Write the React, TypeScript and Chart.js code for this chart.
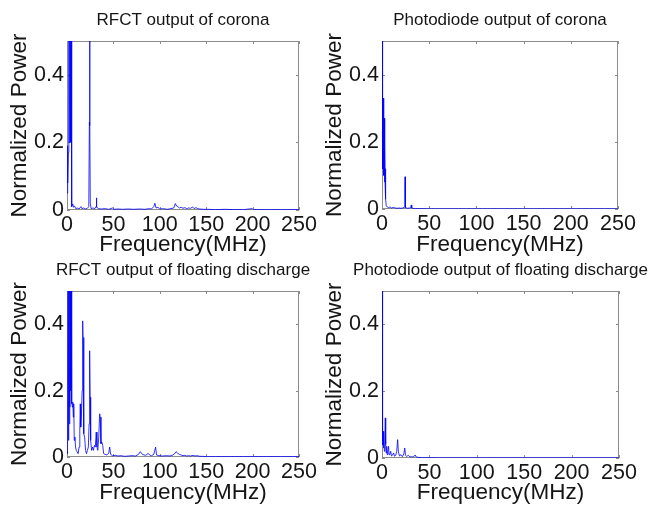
import { useEffect, useRef } from 'react';
import { Chart, registerables } from 'chart.js';

Chart.register(...registerables);

const FONT = 'Arial, "Liberation Sans", sans-serif';
const TEXT = '#151515';
const FRAME = '#8c8c8c';
const LINE = 'rgba(0,0,255,0.8)';

const xTicks = [0, 50, 100, 150, 200, 250];
const yTicks = [0, 0.2, 0.4];
const xLabel = 'Frequency(MHz)';
const yLabel = 'Normalized Power';

const titles = [
  'RFCT output of corona',
  'Photodiode output of corona',
  'RFCT output of floating discharge',
  'Photodiode output of floating discharge',
];

// RFCT output of corona
const rfctCoronaFreq = [0, 0.5, 1.0, 1.5, 2.0, 2.3, 2.6, 2.9, 3.2, 3.5, 3.8, 4.1, 4.4, 4.8, 5.3, 6.2, 7, 8, 9.5, 11, 13, 15, 16, 18, 20, 22, 23.5, 24.1, 24.4, 24.7, 25.1, 26, 28, 30, 31.3, 31.7, 32.1, 34, 37, 41, 45, 49, 50.5, 55, 60, 66, 72, 78, 84, 88, 91, 93.5, 94.7, 96, 98, 100, 104, 108, 112, 115, 116.8, 118, 119.5, 121, 123, 125, 127, 129, 131, 133, 135.5, 137, 139, 141, 143, 147, 152, 160, 170, 180, 190, 199.5, 201, 215, 230, 250];
const rfctCoronaPower = [0.05, 0.19, 0.08, 0.17, 0.95, 0.2, 1.2, 0.25, 1.1, 0.3, 0.9, 0.2, 0.7, 0.05, 0.01, 0.018, 0.008, 0.012, 0.004, 0.006, 0.003, 0.01, 0.004, 0.006, 0.003, 0.005, 0.01, 0.26, 0.9, 0.25, 0.02, 0.004, 0.006, 0.004, 0.01, 0.036, 0.008, 0.004, 0.003, 0.004, 0.002, 0.006, 0.002, 0.003, 0.002, 0.003, 0.002, 0.003, 0.002, 0.004, 0.003, 0.01, 0.02, 0.006, 0.008, 0.003, 0.004, 0.002, 0.004, 0.006, 0.019, 0.012, 0.01, 0.006, 0.008, 0.005, 0.007, 0.004, 0.006, 0.005, 0.009, 0.004, 0.007, 0.004, 0.003, 0.002, 0.002, 0.001, 0.002, 0.001, 0.001, 0.004, 0.001, 0.001, 0.001, 0.001];

// Photodiode output of corona
const pdCoronaFreq = [0, 0.3, 0.6, 0.9, 1.2, 1.5, 1.8, 2.1, 2.4, 2.7, 3.0, 3.3, 3.6, 4.0, 4.5, 5.5, 7, 8.5, 10, 12, 14, 16, 18, 20, 22, 23.5, 24.1, 24.4, 24.7, 25.1, 27, 29, 30.5, 31, 31.5, 34, 40, 50, 70, 100, 150, 200, 250];
const pdCoronaPower = [0.95, 0.4, 0.33, 0.12, 0.33, 0.14, 0.28, 0.1, 0.27, 0.08, 0.2, 0.07, 0.12, 0.03, 0.01, 0.006, 0.004, 0.006, 0.003, 0.005, 0.003, 0.002, 0.003, 0.002, 0.003, 0.005, 0.05, 0.096, 0.045, 0.004, 0.002, 0.003, 0.004, 0.012, 0.003, 0.001, 0.001, 0.0005, 0.0005, 0.0005, 0.0005, 0.0005, 0.0005];

// RFCT output of floating discharge
const rfctFloatFreq = [0, 0.4, 0.8, 1.2, 1.6, 2.0, 2.4, 2.8, 3.2, 3.6, 4.0, 4.4, 4.8, 5.3, 5.8, 6.3, 6.8, 7.3, 7.8, 8.5, 9.2, 10, 11, 12, 13, 13.8, 14.3, 14.8, 15.5, 16.3, 16.9, 17.3, 17.8, 18.3, 19, 20, 21, 22, 23, 23.8, 24.4, 24.9, 25.5, 26.5, 27.5, 28.5, 29.5, 30.5, 31.5, 32.3, 33.2, 34.2, 35.2, 35.8, 36.6, 37.5, 38.5, 39.5, 41, 43, 45, 46, 47, 49, 52, 55, 58, 62, 66, 70, 74, 77, 79, 80.5, 82, 85, 87.5, 89, 91, 93.5, 95.5, 96.5, 99, 103, 107, 111, 114, 116, 117.5, 119, 121, 123, 125, 127, 129, 131, 133, 136, 138, 140, 143, 146, 150, 160, 175, 190, 210, 230, 250];
const rfctFloatPower = [0.02, 0.01, 0.02, 0.7, 0.05, 0.9, 0.1, 0.8, 0.15, 0.95, 0.2, 1.0, 0.16, 0.17, 0.15, 0.165, 0.12, 0.16, 0.05, 0.06, 0.03, 0.02, 0.015, 0.01, 0.03, 0.08, 0.16, 0.09, 0.12, 0.2, 0.41, 0.36, 0.15, 0.07, 0.06, 0.02, 0.01, 0.02, 0.03, 0.1, 0.32, 0.18, 0.05, 0.02, 0.03, 0.02, 0.035, 0.03, 0.075, 0.03, 0.02, 0.06, 0.13, 0.12, 0.04, 0.045, 0.035, 0.01, 0.008, 0.006, 0.012, 0.03, 0.008, 0.004, 0.005, 0.003, 0.004, 0.002, 0.003, 0.004, 0.003, 0.008, 0.016, 0.01, 0.007, 0.005, 0.011, 0.006, 0.004, 0.008, 0.03, 0.006, 0.004, 0.003, 0.004, 0.003, 0.006, 0.01, 0.016, 0.012, 0.008, 0.006, 0.004, 0.005, 0.003, 0.004, 0.003, 0.005, 0.003, 0.004, 0.002, 0.002, 0.001, 0.001, 0.001, 0.001, 0.001, 0.001, 0.001];

// Photodiode output of floating discharge
const pdFloatFreq = [0, 0.3, 0.6, 0.9, 1.2, 1.6, 2.0, 2.5, 3.0, 3.5, 3.9, 4.4, 5.0, 5.5, 6.2, 6.9, 7.5, 8.3, 9.2, 10, 11, 12.2, 13.3, 14.5, 15.5, 16.5, 17.3, 18.5, 20, 21.5, 23, 24, 24.8, 26, 28, 29.5, 31, 33, 35, 36, 38, 42, 50, 60, 80, 110, 150, 200, 250];
const pdFloatPower = [0.95, 0.5, 0.13, 0.04, 0.08, 0.03, 0.05, 0.02, 0.06, 0.12, 0.04, 0.015, 0.035, 0.01, 0.02, 0.035, 0.01, 0.012, 0.02, 0.006, 0.008, 0.015, 0.005, 0.008, 0.02, 0.055, 0.018, 0.006, 0.01, 0.004, 0.012, 0.03, 0.008, 0.005, 0.008, 0.003, 0.004, 0.003, 0.009, 0.003, 0.002, 0.001, 0.001, 0.0005, 0.0005, 0.0005, 0.0005, 0.0005, 0.0005];

type Box = { left: number; top: number; w: number; h: number; pl: number; pt: number; pr: number; pb: number; xPad: number };

const boxes: Box[] = [
  { left: 0, top: 0, w: 325, h: 265, pl: 67, pt: 41, pr: 299, pb: 210, xPad: 6.6 },
  { left: 315, top: 0, w: 335, h: 265, pl: 67, pt: 41, pr: 303, pb: 209, xPad: 6.6 },
  { left: 0, top: 250, w: 325, h: 257, pl: 67, pt: 41, pr: 299, pb: 207, xPad: 0.8 },
  { left: 315, top: 250, w: 335, h: 257, pl: 67, pt: 41, pr: 304, pb: 208, xPad: 0.8 },
];

const series = [
  [rfctCoronaFreq, rfctCoronaPower],
  [pdCoronaFreq, pdCoronaPower],
  [rfctFloatFreq, rfctFloatPower],
  [pdFloatFreq, pdFloatPower],
];

const framePlugin = {
  id: 'frame',
  beforeDatasetsDraw(chart: any) {
    const { ctx, chartArea: a, scales } = chart;
    const x = scales.x;
    const y = scales.y;
    ctx.save();
    ctx.strokeStyle = FRAME;
    ctx.lineWidth = 1;
    ctx.strokeRect(a.left + 0.5, a.top + 0.5, a.right - a.left - 1, a.bottom - a.top - 1);
    ctx.beginPath();
    const L = 3;
    xTicks.forEach((v) => {
      const px = Math.round(x.getPixelForValue(v)) + 0.5;
      ctx.moveTo(px, a.bottom);
      ctx.lineTo(px, a.bottom - L);
      ctx.moveTo(px, a.top);
      ctx.lineTo(px, a.top + L);
    });
    yTicks.forEach((v) => {
      const py = Math.round(y.getPixelForValue(v)) + 0.5;
      ctx.moveTo(a.left, py);
      ctx.lineTo(a.left + L, py);
      ctx.moveTo(a.right, py);
      ctx.lineTo(a.right - L, py);
    });
    ctx.stroke();
    ctx.restore();
  },
};

const titlePlugin = {
  id: 'panelTitle',
  afterDraw(chart: any, _args: any, opts: any) {
    const { ctx, chartArea: a } = chart;
    ctx.save();
    ctx.font = `17px ${FONT}`;
    ctx.fillStyle = TEXT;
    ctx.textAlign = 'center';
    ctx.textBaseline = 'alphabetic';
    ctx.fillText(opts.text, (a.left + a.right) / 2, opts.baseline);
    ctx.restore();
  },
};

function Panel({ idx }: { idx: number }) {
  const ref = useRef<HTMLCanvasElement | null>(null);
  const b = boxes[idx];
  useEffect(() => {
    if (!ref.current) return;
    const [freq, power] = series[idx];
    const chart = new Chart(ref.current, {
      type: 'line',
      data: {
        datasets: [
          {
            data: freq.map((f, i) => ({ x: f, y: power[i] })),
            borderColor: LINE,
            borderWidth: 1,
            pointRadius: 0,
            tension: 0,
            fill: false,
          },
        ],
      },
      options: {
        animation: false,
        responsive: false,
        maintainAspectRatio: false,
        events: [],
        layout: { padding: { left: 0, top: b.pt, right: b.w - b.pr, bottom: 0 } },
        plugins: {
          legend: { display: false },
          tooltip: { enabled: false },
          title: { display: false },
          panelTitle: { text: titles[idx], baseline: 25 },
        } as any,
        scales: {
          x: {
            type: 'linear',
            min: 0,
            max: 250,
            afterBuildTicks: (s: any) => {
              s.ticks = xTicks.map((v) => ({ value: v }));
            },
            afterFit: (s: any) => {
              s.height = b.h - b.pb;
            },
            grid: { display: false, drawTicks: false },
            border: { display: false },
            ticks: {
              autoSkip: false,
              maxRotation: 0,
              padding: 2,
              color: TEXT,
              font: { family: FONT, size: 21.5 },
              callback: (v: any) => String(v),
            },
            title: {
              display: true,
              text: xLabel,
              color: TEXT,
              font: { family: FONT, size: 22.5 },
              padding: { top: 0, bottom: b.xPad },
            },
          },
          y: {
            type: 'linear',
            min: 0,
            max: 0.5,
            afterBuildTicks: (s: any) => {
              s.ticks = yTicks.map((v) => ({ value: v }));
            },
            afterFit: (s: any) => {
              s.width = b.pl;
            },
            grid: { display: false, drawTicks: false },
            border: { display: false },
            ticks: {
              padding: 3,
              color: TEXT,
              font: { family: FONT, size: 21.5 },
              callback: (v: any) => String(v),
            },
            title: {
              display: true,
              text: yLabel,
              color: TEXT,
              font: { family: FONT, size: 22.5 },
              padding: { top: 6.5, bottom: 0 },
            },
          },
        },
      } as any,
      plugins: [framePlugin, titlePlugin],
    });
    return () => chart.destroy();
  }, [idx]);
  return (
    <canvas
      ref={ref}
      width={b.w}
      height={b.h}
      style={{ position: 'absolute', left: b.left, top: b.top, width: b.w, height: b.h }}
    />
  );
}

export default function App() {
  return (
    <div style={{ position: 'absolute', left: 0, top: 0, width: 650, height: 505, background: '#fff', overflow: 'hidden' }}>
      {[0, 1, 2, 3].map((i) => (
        <Panel key={i} idx={i} />
      ))}
    </div>
  );
}
